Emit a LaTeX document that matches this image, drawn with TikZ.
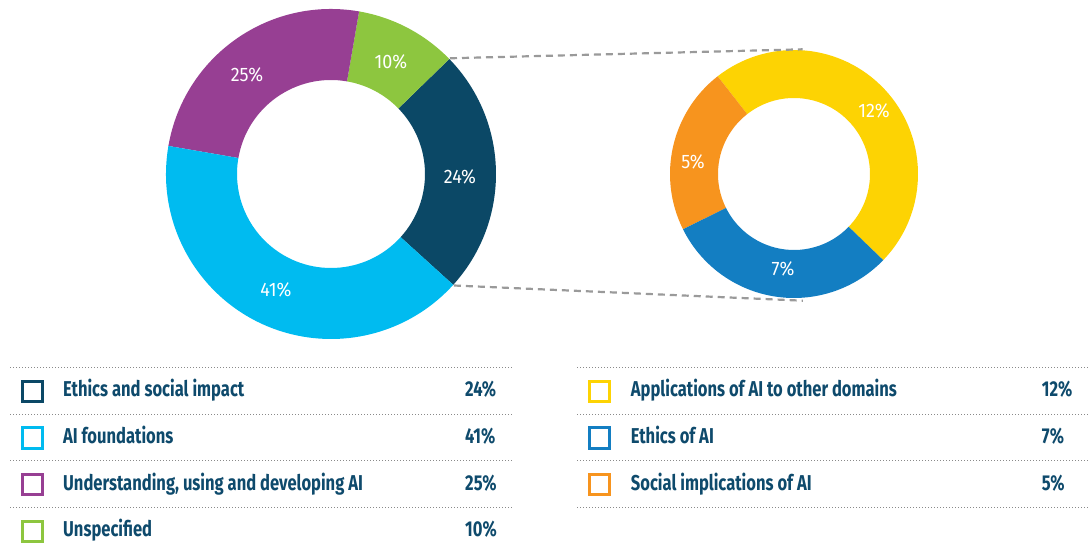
\documentclass[tikz,border=0pt]{standalone}
\usepackage{fontspec}
\usetikzlibrary{calc}
\newfontfamily\legfont[FakeStretch=0.77]{Fira Sans}
\newfontfamily\piefont[FakeStretch=0.92]{Fira Sans}
\definecolor{cDark}{HTML}{0B4866}
\definecolor{cLight}{HTML}{00BBF0}
\definecolor{cPurple}{HTML}{973F93}
\definecolor{cGreen}{HTML}{8DC63F}
\definecolor{cYellow}{HTML}{FDD303}
\definecolor{cOrange}{HTML}{F7941E}
\definecolor{cBlue}{HTML}{137EC2}
\definecolor{cText}{HTML}{0E4A6C}
\definecolor{cConn}{HTML}{9A9A9A}
\definecolor{cDot}{HTML}{8A8A8A}
\newcommand\ringpart[6]{%
  \fill[#6] ($(#1)+(#2:#4)$) arc[start angle=#2,end angle=#3,radius=#4]
    -- ($(#1)+(#3:#5)$) arc[start angle=#3,end angle=#2,radius=#5] -- cycle;}
\begin{document}
\begin{tikzpicture}[x=1pt,y=1pt,
  pielab/.style={text=white,font=\piefont\fontsize{19.5}{19.5}\selectfont,inner sep=0pt},
  legtext/.style={text=cText,font=\legfont\bfseries\fontsize{21.5}{21.5}\selectfont,inner sep=0pt,anchor=base west},
  legbox/.style={draw=#1,line width=3pt,minimum size=20.5pt,inner sep=0pt,fill=white},
  conn/.style={draw=cConn,line width=2.2pt,dash pattern=on 7pt off 5pt},
  rule/.style={draw=cDot,line width=1pt,dash pattern=on 1pt off 2pt}]
\useasboundingbox (0,0) rectangle (1088,-551);
\coordinate (L) at (331,-174);
\coordinate (R) at (794,-174);
% left donut
\ringpart{L}{-42.2}{44.2}{165pt}{94pt}{cDark}
\ringpart{L}{44.2}{80.2}{165pt}{94pt}{cGreen}
\ringpart{L}{80.2}{170.2}{165pt}{94pt}{cPurple}
\ringpart{L}{170.2}{317.8}{165pt}{94pt}{cLight}
% right donut
\ringpart{R}{-44}{128}{124pt}{76pt}{cYellow}
\ringpart{R}{128}{206.5}{124pt}{76pt}{cOrange}
\ringpart{R}{206.5}{316}{124pt}{76pt}{cBlue}
% labels on donuts
\node[pielab] (p10) at (391,-62) {10\%};
\node[pielab] (p24) at (460,-177) {24\%};
\node[pielab] (p25) at (247,-75) {25\%};
\node[pielab] (p41) at (276,-290) {41\%};
\node[pielab] (p12) at (874,-111) {12\%};
\node[pielab] (p5) at (693,-162) {5\%};
\node[pielab] (p7) at (783,-269) {7\%};
% connectors
\coordinate (t1) at ($(L)+(44.2:166pt)$);
\coordinate (t2) at ($(R)+(86:125pt)$);
\coordinate (b1) at ($(L)+(-42.2:166pt)$);
\coordinate (b2) at ($(R)+(-86:127pt)$);
\draw[conn] (t1) -- (t2);
\draw[conn] (b1) -- (b2);
% legend rules
\foreach \yy in {367.3,414,460.7,507.3} {
  \draw[rule] (10,-\yy) -- (513,-\yy);
}
\foreach \yy in {367.3,414,460.7,507.3} {
  \draw[rule] (577,-\yy) -- (1088,-\yy);
}
% left legend
\node[legbox=cDark] (k1) at (32.3,-391.3) {};
\node[legtext] (l1) at (63,-396.7) {Ethics and social impact};
\node[legtext] (v1) at (465,-396.7) {24\%};
\node[legbox=cLight] (k2) at (32.3,-438) {};
\node[legtext] (l2) at (63,-443.3) {AI foundations};
\node[legtext] (v2) at (465,-443.3) {41\%};
\node[legbox=cPurple] (k3) at (32.3,-484.6) {};
\node[legtext] (l3) at (63,-490) {Understanding, using and developing AI};
\node[legtext] (v3) at (465,-490) {25\%};
\node[legbox=cGreen] (k4) at (32.3,-531.3) {};
\node[legtext] (l4) at (63,-536.7) {Unspecified};
\node[legtext] (v4) at (465,-536.7) {10\%};
% right legend
\node[legbox=cYellow] (k5) at (599.5,-391.3) {};
\node[legtext] (l5) at (630.7,-396.7) {Applications of AI to other domains};
\node[legtext] (v5) at (1041.7,-396.7) {12\%};
\node[legbox=cBlue] (k6) at (599.5,-438) {};
\node[legtext] (l6) at (630.7,-443.3) {Ethics of AI};
\node[legtext] (v6) at (1041.7,-443.3) {7\%};
\node[legbox=cOrange] (k7) at (599.5,-484.6) {};
\node[legtext] (l7) at (630.7,-490) {Social implications of AI};
\node[legtext] (v7) at (1041.7,-490) {5\%};
\end{tikzpicture}
\end{document}
